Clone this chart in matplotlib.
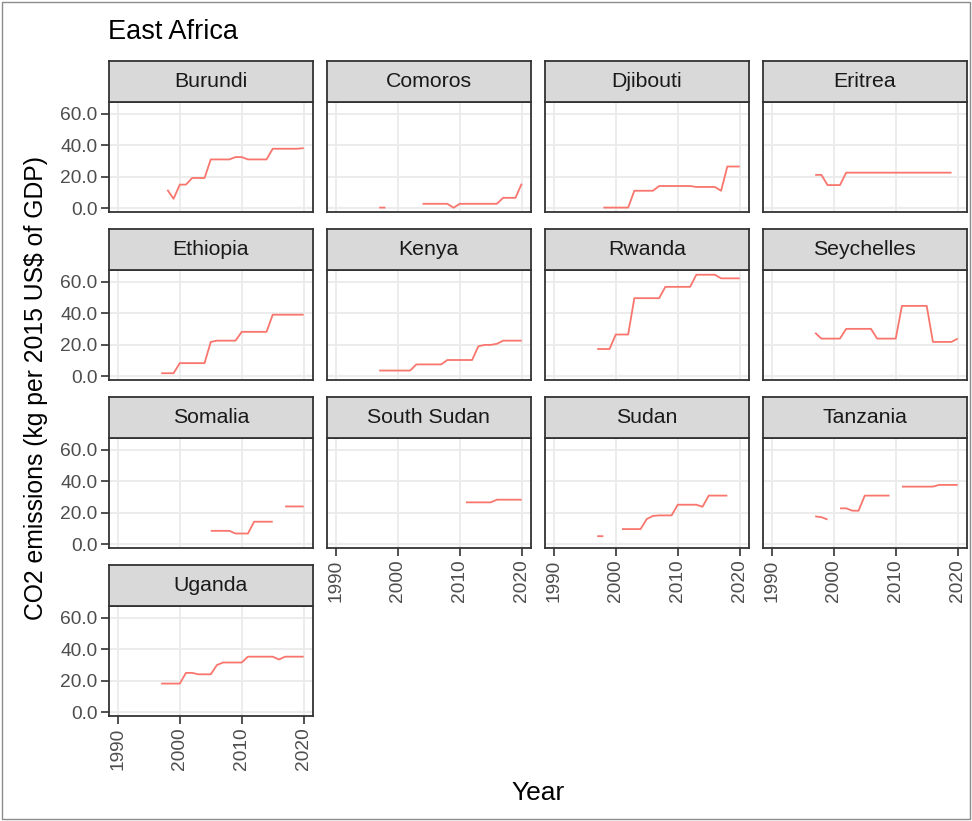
import matplotlib
matplotlib.use("Agg")
import matplotlib.pyplot as plt
import matplotlib.patches as mpatches
from matplotlib.ticker import FormatStrFormatter
import numpy as np

plt.rcParams["font.family"] = ["Liberation Sans", "DejaVu Sans"]

nan = np.nan

# ---- data (kg CO2 per 2015 US$ of GDP), years 1997..2020 ----
years = list(range(1997, 2021))
countries = ["Burundi", "Comoros", "Djibouti", "Eritrea",
             "Ethiopia", "Kenya", "Rwanda", "Seychelles",
             "Somalia", "South Sudan", "Sudan", "Tanzania", "Uganda"]

burundi = [nan, 11.7, 6.0, 15.0, 15.0, 19.2, 19.2, 19.2, 31.0, 31.0, 31.0, 31.0,
           32.5, 32.5, 31.0, 31.0, 31.0, 31.0, 37.8, 37.8, 37.8, 37.8, 37.8, 38.2]
comoros = [0.4, 0.4, nan, nan, nan, nan, nan, 2.8, 2.8, 2.8, 2.8, 2.8,
           0.3, 2.8, 2.8, 2.8, 2.8, 2.8, 2.8, 2.8, 6.6, 6.6, 6.6, 15.6]
djibouti = [nan, 0.4, 0.4, 0.4, 0.4, 0.4, 11.1, 11.1, 11.1, 11.1, 14.1, 14.1,
            14.1, 14.1, 14.1, 14.1, 13.5, 13.5, 13.5, 13.5, 11.1, 26.5, 26.5, 26.5]
eritrea = [21.2, 21.2, 14.7, 14.7, 14.7, 22.6, 22.6, 22.6, 22.6, 22.6, 22.6, 22.6,
           22.6, 22.6, 22.6, 22.6, 22.6, 22.6, 22.6, 22.6, 22.6, 22.6, 22.6, nan]
ethiopia = [1.9, 1.9, 1.9, 8.3, 8.3, 8.3, 8.3, 8.3, 21.8, 22.6, 22.6, 22.6,
            22.6, 28.2, 28.2, 28.2, 28.2, 28.2, 39.1, 39.1, 39.1, 39.1, 39.1, 39.1]
kenya = [3.6, 3.6, 3.6, 3.6, 3.6, 3.6, 7.5, 7.5, 7.5, 7.5, 7.5, 10.3,
         10.3, 10.3, 10.3, 10.3, 19.0, 19.9, 19.9, 20.6, 22.6, 22.6, 22.6, 22.6]
rwanda = [17.3, 17.3, 17.3, 26.5, 26.5, 26.5, 49.6, 49.6, 49.6, 49.6, 49.6, 56.8,
          56.8, 56.8, 56.8, 56.8, 64.5, 64.5, 64.5, 64.5, 62.2, 62.2, 62.2, 62.2]
seychelles = [27.6, 23.9, 23.9, 23.9, 23.9, 30.1, 30.1, 30.1, 30.1, 30.1, 23.9, 23.9,
              23.9, 23.9, 44.7, 44.7, 44.7, 44.7, 44.7, 21.8, 21.8, 21.8, 21.8, 23.9]
somalia = [nan, nan, nan, nan, nan, nan, nan, nan, 8.5, 8.5, 8.5, 8.5,
           6.8, 6.8, 6.8, 14.3, 14.3, 14.3, 14.3, nan, 24.0, 24.0, 24.0, 24.0]
south_sudan = [nan, nan, nan, nan, nan, nan, nan, nan, nan, nan, nan, nan,
               nan, nan, 26.6, 26.6, 26.6, 26.6, 26.6, 28.3, 28.3, 28.3, 28.3, 28.3]
sudan = [5.1, 5.1, nan, nan, 9.6, 9.6, 9.6, 9.6, 16.0, 18.0, 18.3, 18.3,
         18.3, 25.1, 25.1, 25.1, 25.1, 23.8, 30.9, 30.9, 30.9, 30.9, nan, nan]
tanzania = [17.7, 17.2, 15.7, nan, 22.8, 22.8, 21.3, 21.3, 30.9, 30.9, 30.9, 30.9,
            30.9, nan, 36.6, 36.6, 36.6, 36.6, 36.6, 36.6, 37.7, 37.7, 37.7, 37.7]
uganda = [18.2, 18.2, 18.2, 18.2, 25.0, 25.0, 24.1, 24.1, 24.1, 30.0, 31.6, 31.6,
          31.6, 31.6, 35.3, 35.3, 35.3, 35.3, 35.3, 33.5, 35.3, 35.3, 35.3, 35.3]

series = [burundi, comoros, djibouti, eritrea, ethiopia, kenya, rwanda,
          seychelles, somalia, south_sudan, sudan, tanzania, uganda]

x_ticks = [1990, 2000, 2010, 2020]
y_ticks = [0, 20, 40, 60]

# ---- layout (pixels) ----
W, H = 972, 821
LINE = "#F8766D"
DARK = "#333333"

fig = plt.figure(figsize=(W / 100, H / 100), dpi=100)
fig.patch.set_facecolor("white")


def px_axes(left, top, w, h):
    return fig.add_axes([left / W, 1 - (top + h) / H, w / W, h / H])


col_left = [108.5, 326.5, 544.5, 762.5]
row_top = [101.7, 269.7, 437.7, 605.7]
pw, ph = 204.5, 110.6
sh = 41

ncol = 4
n = len(countries)
for i, (name, vals) in enumerate(zip(countries, series)):
    r, c = divmod(i, ncol)
    ax = px_axes(col_left[c], row_top[r], pw, ph)
    ax.plot(years, vals, color=LINE, lw=1.3, solid_capstyle="butt")
    ax.set_xlim(1988.5, 2021.5)
    ax.set_ylim(-2.6, 67.7)
    ax.set_xticks(x_ticks)
    ax.set_yticks(y_ticks)
    ax.grid(True, color="#EBEBEB", lw=1.3)
    ax.set_axisbelow(True)
    for s in ax.spines.values():
        s.set_color(DARK)
        s.set_linewidth(1.3)
    ax.yaxis.set_major_formatter(FormatStrFormatter("%.1f"))
    ax.tick_params(colors=DARK, width=1.2, length=6, labelsize=13.8,
                   labelcolor="#4D4D4D", pad=2)
    ax.tick_params(axis="x", labelrotation=90)

    show_y = c == 0
    show_x = (i + ncol) >= n
    ax.tick_params(axis="y", left=show_y, labelleft=show_y)
    ax.tick_params(axis="x", bottom=show_x, labelbottom=show_x)

    # strip
    st = px_axes(col_left[c], row_top[r] - sh, pw, sh)
    st.set_facecolor("#D9D9D9")
    st.set_xticks([])
    st.set_yticks([])
    for s in st.spines.values():
        s.set_color(DARK)
        s.set_linewidth(1.3)
    st.text(0.5, 0.5, name, ha="center", va="center", fontsize=15.3,
            color="#1A1A1A", transform=st.transAxes)

fig.text(108 / W, 1 - 32 / H, "East Africa", fontsize=19.5, ha="left",
         va="center", color="black")
fig.text(538 / W, 1 - 793 / H, "Year", fontsize=19, ha="center",
         va="center", color="black")
fig.text(36 / W, 1 - 388 / H, "CO2 emissions (kg per 2015 US$ of GDP)",
         fontsize=17.8, rotation=90, ha="center", va="center", color="black")

fig.patches.append(mpatches.Rectangle((2 / W, 2 / H), (W - 4) / W, (H - 4) / H,
                                      transform=fig.transFigure, fill=False,
                                      edgecolor="#8C8C8C", lw=1.0))

fig.savefig("out.png", dpi=100)
